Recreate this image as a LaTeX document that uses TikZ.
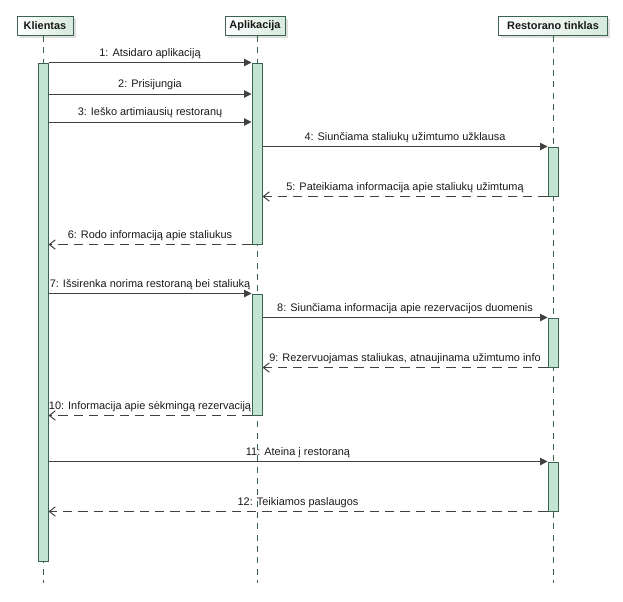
\documentclass[tikz,border=0pt]{standalone}
\usepackage{fontspec}
\setmainfont{Liberation Sans}
\usetikzlibrary{arrows.meta,positioning,shadows,fit}
\definecolor{seqGreen}{RGB}{59,99,80}
\definecolor{seqFill}{RGB}{196,228,211}
\definecolor{seqHead}{RGB}{214,234,222}
\definecolor{seqLine}{RGB}{64,64,64}
\definecolor{seqText}{RGB}{25,25,25}
\tikzset{
  headbox/.style={
    rectangle, draw=seqGreen, line width=0.75pt,
    left color=white, right color=seqHead, text=seqText,
    font=\fontsize{8.2}{10}\selectfont\bfseries,
    inner xsep=3pt, minimum height=14pt,
    drop shadow={shadow xshift=2pt, shadow yshift=-2pt, fill=black!25}},
  actbox/.style={
    rectangle, draw=seqGreen, line width=0.75pt, fill=seqFill,
    inner sep=0pt, minimum width=7.5pt},
  lifeline/.style={draw=seqGreen, line width=0.75pt, dash pattern=on 4.5pt off 4pt},
  msgline/.style={-{Triangle[length=5.5pt, width=5.5pt]}, draw=seqLine, line width=0.75pt},
  retline/.style={-{Straight Barb[length=4.5pt, width=7pt]}, draw=seqLine, line width=0.75pt,
    dash pattern=on 7pt off 4.5pt},
  msglabel/.style={above=1.5pt, midway, inner sep=1pt, text=seqText}
}
\begin{document}
\begin{tikzpicture}[x=0.75pt, y=-0.75pt, font=\fontsize{8.2}{10}\selectfont]
  \useasboundingbox (0,0) rectangle (623,601);
  % participants
  \node[headbox, minimum width=42pt] (kli)  at (45,26)  {Klientas};
  \node[headbox, minimum width=45pt] (app)  at (255,26) {Aplikacija};
  \node[headbox, minimum width=82pt] (rest) at (553,26) {Restorano tinklas};

  % lifelines
  \coordinate (kliEnd)  at (43,583);
  \coordinate (appEnd)  at (257,583);
  \coordinate (restEnd) at (553,583);
  \draw[lifeline] (kli.south -| kliEnd) -- (kliEnd);
  \draw[lifeline] (app.south -| appEnd) -- (appEnd);
  \draw[lifeline] (rest.south -| restEnd) -- (restEnd);

  % activations
  \node[actbox, fit={(43,63)(43,561)}]    (kliA)   {};
  \node[actbox, fit={(257,63)(257,244)}]  (appA1)  {};
  \node[actbox, fit={(257,294)(257,415)}] (appA2)  {};
  \node[actbox, fit={(553,147)(553,196)}] (restA1) {};
  \node[actbox, fit={(553,318)(553,367)}] (restA2) {};
  \node[actbox, fit={(553,462)(553,511)}] (restA3) {};

  % messages
  \draw[msgline] (kliA.north east) -- node[msglabel] {1: Atsidaro aplikaciją} (appA1.north west);
  \draw[msgline] (kliA.east |- 0,94) -- node[msglabel] {2: Prisijungia} (appA1.west |- 0,94);
  \draw[msgline] (kliA.east |- 0,122) -- node[msglabel] {3: Ieško artimiausių restoranų} (appA1.west |- 0,122);
  \draw[msgline] (appA1.east |- restA1.north) -- node[msglabel] {4: Siunčiama staliukų užimtumo užklausa} (restA1.north west);
  \draw[retline] (restA1.south west) -- node[msglabel] {5: Pateikiama informacija apie staliukų užimtumą} (appA1.east |- restA1.south);
  \draw[retline] (appA1.south west) -- node[msglabel] {6: Rodo informaciją apie staliukus} (kliA.east |- appA1.south);
  \draw[msgline] (kliA.east |- appA2.north) -- node[msglabel] {7: Išsirenka norima restoraną bei staliuką} (appA2.north west);
  \draw[msgline] (appA2.east |- restA2.north) -- node[msglabel] {8: Siunčiama informacija apie rezervacijos duomenis} (restA2.north west);
  \draw[retline] (restA2.south west) -- node[msglabel] {9: Rezervuojamas staliukas, atnaujinama užimtumo info} (appA2.east |- restA2.south);
  \draw[retline] (appA2.south west) -- node[msglabel] {10: Informacija apie sėkmingą rezervaciją} (kliA.east |- appA2.south);
  \draw[msgline] (kliA.east |- restA3.north) -- node[msglabel] {11: Ateina į restoraną} (restA3.north west);
  \draw[retline] (restA3.south west) -- node[msglabel] {12: Teikiamos paslaugos} (kliA.east |- restA3.south);
\end{tikzpicture}
\end{document}
